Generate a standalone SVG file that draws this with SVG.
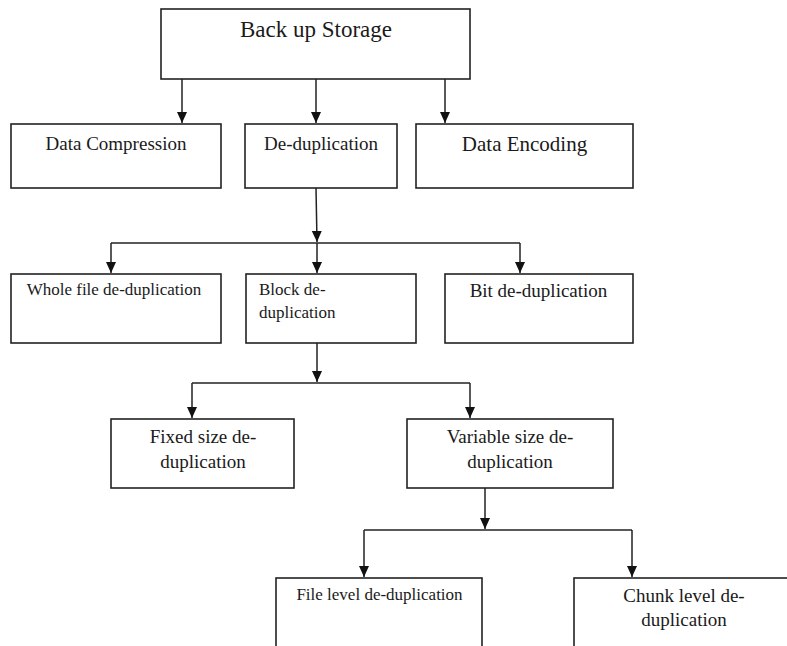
<svg xmlns="http://www.w3.org/2000/svg" width="787" height="646" viewBox="0 0 787 646">
<style>
.box{fill:#fff;stroke:#222;stroke-width:1.6}
.ln{fill:none;stroke:#222;stroke-width:1.5}
text{font-family:"Liberation Serif","Tinos","DejaVu Serif",serif;fill:#1a1a1a}
.c{text-anchor:middle}
</style>
<defs>
<marker id="ah" markerUnits="userSpaceOnUse" markerWidth="12" markerHeight="12" viewBox="0 0 12 12" refX="11" refY="6" orient="auto">
<path d="M0,1 L11,6 L0,11 Z" fill="#111"/>
</marker>
</defs>
<rect width="787" height="646" fill="#fff"/>
<g id="connectors">
<line class="ln" x1="182" y1="79" x2="182" y2="123" marker-end="url(#ah)"/>
<line class="ln" x1="316" y1="79" x2="316" y2="123" marker-end="url(#ah)"/>
<line class="ln" x1="445" y1="79" x2="445" y2="123" marker-end="url(#ah)"/>
<line class="ln" x1="316" y1="188" x2="317" y2="242" marker-end="url(#ah)"/>
<line class="ln" x1="111" y1="243" x2="520" y2="243"/>
<line class="ln" x1="111" y1="243" x2="111" y2="273" marker-end="url(#ah)"/>
<line class="ln" x1="317" y1="243" x2="317" y2="273" marker-end="url(#ah)"/>
<line class="ln" x1="520" y1="243" x2="520" y2="273" marker-end="url(#ah)"/>
<line class="ln" x1="317" y1="343" x2="317" y2="382" marker-end="url(#ah)"/>
<line class="ln" x1="192" y1="383" x2="470" y2="383"/>
<line class="ln" x1="192" y1="383" x2="192" y2="418" marker-end="url(#ah)"/>
<line class="ln" x1="470" y1="383" x2="470" y2="418" marker-end="url(#ah)"/>
<line class="ln" x1="485" y1="488" x2="485" y2="529" marker-end="url(#ah)"/>
<line class="ln" x1="364" y1="530" x2="632" y2="530"/>
<line class="ln" x1="364" y1="530" x2="364" y2="577" marker-end="url(#ah)"/>
<line class="ln" x1="632" y1="530" x2="632" y2="577" marker-end="url(#ah)"/>
</g>
<g id="backup">
<rect class="box" x="161" y="9" width="309" height="70"/>
<text class="c" x="316" y="37" font-size="23" font-family="Liberation Serif, serif">Back up Storage</text>
</g>
<g id="compression">
<rect class="box" x="11" y="124" width="210" height="64"/>
<text class="c" x="116" y="150" font-size="19">Data Compression</text>
</g>
<g id="dedup">
<rect class="box" x="245" y="124" width="152" height="64"/>
<text class="c" x="321" y="150" font-size="19">De-duplication</text>
</g>
<g id="encoding">
<rect class="box" x="416" y="124" width="217" height="64"/>
<text class="c" x="524.5" y="151" font-size="21">Data Encoding</text>
</g>
<g id="wholefile">
<rect class="box" x="11" y="274" width="210" height="69"/>
<text class="c" x="114" y="295" font-size="17">Whole file de-duplication</text>
</g>
<g id="block">
<rect class="box" x="246" y="274" width="170" height="69"/>
<text x="259" y="295" font-size="17">Block de-</text>
<text x="259" y="318" font-size="17">duplication</text>
</g>
<g id="bit">
<rect class="box" x="445" y="274" width="188" height="69"/>
<text class="c" x="538.5" y="297" font-size="19">Bit de-duplication</text>
</g>
<g id="fixed">
<rect class="box" x="111" y="419" width="183" height="69"/>
<text class="c" x="203" y="443" font-size="19">Fixed size de-</text>
<text class="c" x="203" y="468" font-size="19">duplication</text>
</g>
<g id="variable">
<rect class="box" x="407" y="419" width="206" height="69"/>
<text class="c" x="510" y="443" font-size="19">Variable size de-</text>
<text class="c" x="510" y="468" font-size="19">duplication</text>
</g>
<g id="filelevel">
<rect class="box" x="276" y="578" width="206" height="90"/>
<text class="c" x="379.5" y="600" font-size="17">File level de-duplication</text>
</g>
<g id="chunk">
<rect class="box" x="574" y="578" width="230" height="90"/>
<text class="c" x="684" y="602" font-size="19">Chunk level de-</text>
<text class="c" x="684" y="626" font-size="19">duplication</text>
</g>
</svg>
